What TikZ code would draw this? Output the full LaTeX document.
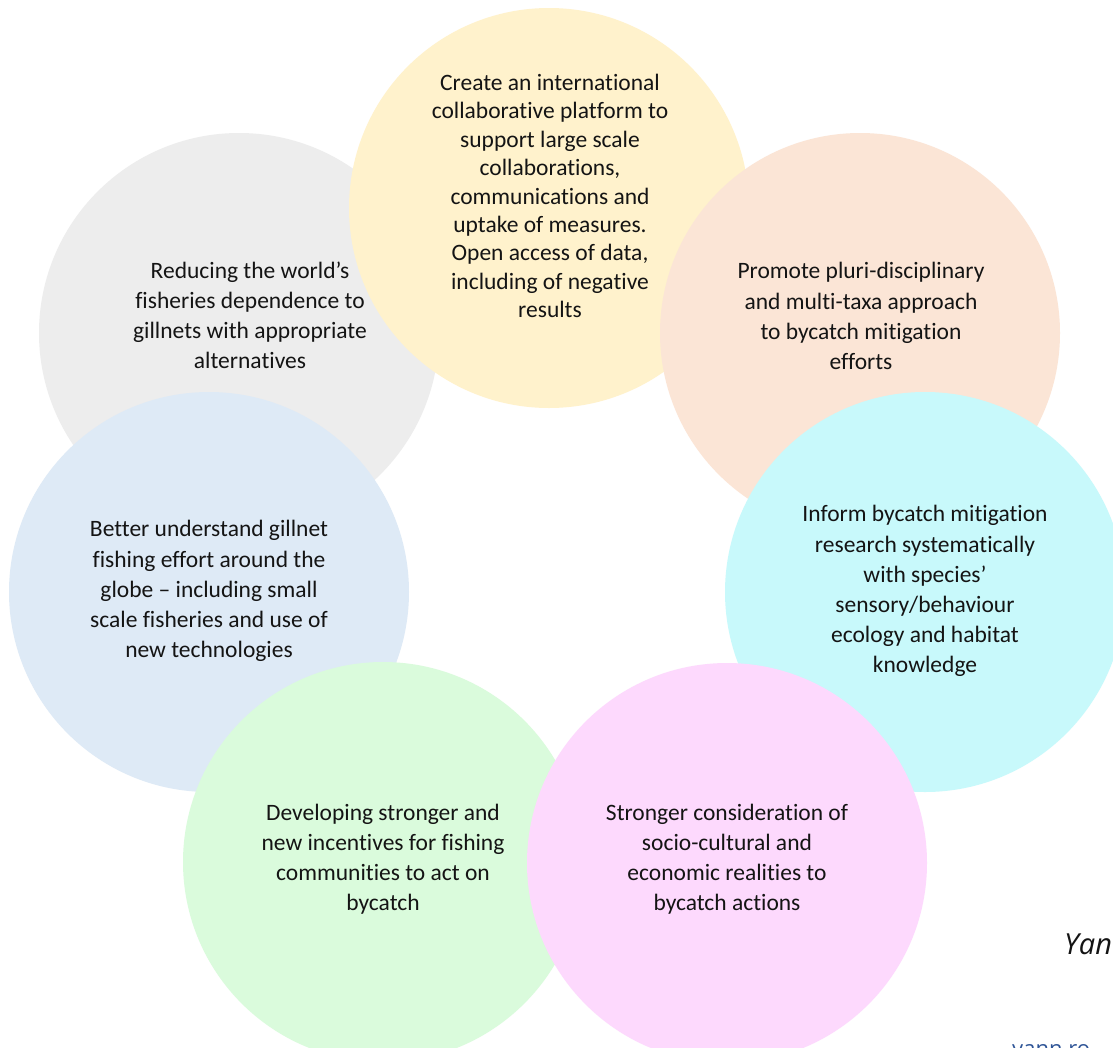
\documentclass[tikz,border=0pt]{standalone}
\usepackage{fontspec}
\setmainfont{Carlito}[Ligatures={NoCommon}]
\newfontfamily\sigfont{Open Sans}
\definecolor{cgray}{HTML}{EDEDED}
\definecolor{cyellow}{HTML}{FFF2CC}
\definecolor{cpeach}{HTML}{FBE5D6}
\definecolor{ccyan}{HTML}{C8F9FB}
\definecolor{cblue}{HTML}{DEEAF6}
\definecolor{cgreen}{HTML}{DAFBDC}
\definecolor{cpink}{HTML}{FDD9FD}
\definecolor{ctext}{HTML}{141414}
\definecolor{clink}{HTML}{2F5597}
\tikzset{
  bubble/.style={circle, minimum size=400pt, inner sep=0pt, draw=none},
  bubbletext/.style={align=center, text=ctext, font=\fontsize{23.5}{30.1}\selectfont, inner sep=0pt}
}
\begin{document}
\begin{tikzpicture}[x=1pt,y=-1pt]
\useasboundingbox (0,0) rectangle (1113,1047);
\clip (0,0) rectangle (1113,1047);
\fill[white] (0,0) rectangle (1113,1047);
% circles (back to front)
\node[bubble, fill=cgray]   (gray)   at (239,333) {};
\node[bubble, fill=cyellow] (yellow) at (549,208) {};
\node[bubble, fill=cpeach]  (peach)  at (860,333) {};
\node[bubble, fill=ccyan]   (cyan)   at (925,592) {};
\node[bubble, fill=cblue]   (blue)   at (209,592) {};
\node[bubble, fill=cgreen]  (green)  at (383,862) {};
\node[bubble, fill=cpink]   (pink)   at (727,863) {};
% texts
\node[bubbletext] (tgray) at (250,315) {Reducing the world’s\\fisheries dependence to\\gillnets with appropriate\\alternatives};
\node[bubbletext, font=\fontsize{23.5}{28.4}\selectfont] (tyellow) at (550,196) {Create an international\\collaborative platform to\\support large scale\\collaborations,\\communications and\\uptake of measures.\\Open access of data,\\including of negative\\results};
\node[bubbletext] (tpeach) at (861,316) {Promote pluri-disciplinary\\and multi-taxa approach\\to bycatch mitigation\\efforts};
\node[bubbletext] (tcyan) at (925,591) {Inform bycatch mitigation\\research systematically\\with species’\\sensory/behaviour\\ecology and habitat\\knowledge};
\node[bubbletext] (tblue) at (209,591) {Better understand gillnet\\fishing effort around the\\globe – including small\\scale fisheries and use of\\new technologies};
\node[bubbletext] (tgreen) at (383,859) {Developing stronger and\\new incentives for fishing\\communities to act on\\bycatch};
\node[bubbletext] (tpink) at (727,859) {Stronger consideration of\\socio-cultural and\\economic realities to\\bycatch actions};
% signature (clipped at the edge, as in the reference)
\node[anchor=base west, inner sep=0pt, font=\sigfont\itshape\fontsize{29}{32}\selectfont, text=ctext] (sig) at (1064,954) {Yan};
\node[anchor=base west, inner sep=0pt, font=\sigfont\fontsize{22}{26}\selectfont, text=clink] (mail) at (1012,1056) {yann.ro};
\end{tikzpicture}
\end{document}
